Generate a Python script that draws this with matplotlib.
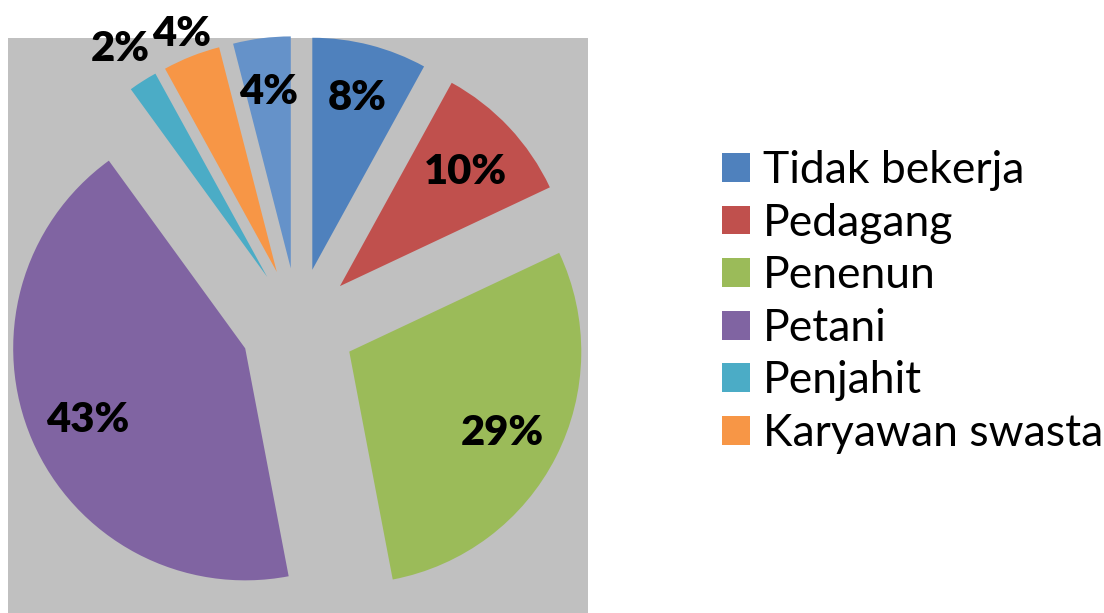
import matplotlib
matplotlib.use("Agg")
import matplotlib.pyplot as plt
from matplotlib.patches import Patch
import numpy as np

plt.rcParams['font.family'] = ['Lato', 'DejaVu Sans']

# data
kategori = ['Tidak bekerja', 'Pedagang', 'Penenun', 'Petani', 'Penjahit', 'Karyawan swasta', 'Lainnya']
persen = [8, 10, 29, 43, 2, 4, 4]
warna = ['#4F81BD', '#C0504D', '#9BBB59', '#8064A2', '#4BACC6', '#F79646', '#6592C9']
# jarak label dari pusat irisan (x radius)
jarak_label = [0.78, 0.74, 0.74, 0.74, 1.18, 1.12, 0.78]

fig = plt.figure(figsize=(11.04, 6.13), dpi=100)
ax = fig.add_axes([8 / 1104, 0, 580 / 1104, 575 / 613])

wedges, _ = ax.pie(persen, colors=warna, startangle=90, counterclock=False,
                   explode=[0.248] * len(persen), radius=1.0)
ax.set_frame_on(True)
ax.set_facecolor('#C0C0C0')
for s in ax.spines.values():
    s.set_visible(False)
ax.set_xticks([])
ax.set_yticks([])
ax.set_xlim(-1.25, 1.25)
ax.set_ylim(-1.239, 1.239)
ax.set_aspect('equal')

for w, p, d in zip(wedges, persen, jarak_label):
    ang = np.deg2rad((w.theta1 + w.theta2) / 2)
    cx, cy = w.center
    ax.text(cx + d * np.cos(ang), cy + d * np.sin(ang), '%d%%' % p,
            ha='center', va='center_baseline', fontsize=30, fontweight='heavy', color='black')

handles = [Patch(facecolor=c) for c in warna[:6]]
fig.legend(handles, kategori[:6], loc='center left', bbox_to_anchor=(722 / 1104, 1 - 302 / 613),
           frameon=False, fontsize=32, handlelength=0.62, handleheight=0.62,
           handletextpad=0.3, labelspacing=0.26, borderaxespad=0, borderpad=0)

plt.savefig('out.png', dpi=100)
